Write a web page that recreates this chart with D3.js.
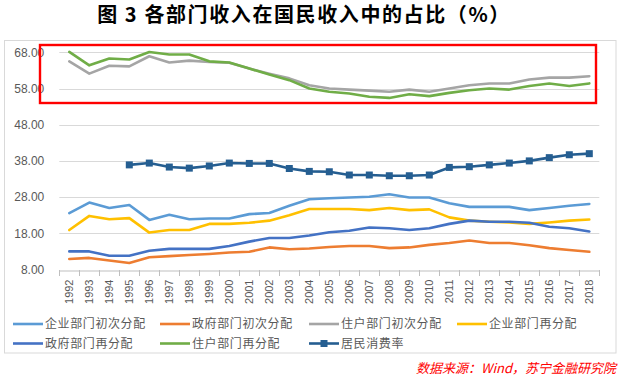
<!DOCTYPE html>
<html><head><meta charset="utf-8">
<script src="https://cdn.jsdelivr.net/npm/d3@7"></script>
<style>
html,body{margin:0;padding:0;background:#fff;}
svg{display:block;}
</style>
</head><body>
<svg id="c" width="622" height="377"></svg>
<script>
const years = [1992,1993,1994,1995,1996,1997,1998,1999,2000,2001,2002,2003,2004,2005,2006,2007,2008,2009,2010,2011,2012,2013,2014,2015,2016,2017,2018];
const yTicks = [8,18,28,38,48,58,68];
const seriesNames = ["企业部门初次分配","政府部门初次分配","住户部门初次分配","企业部门再分配","政府部门再分配","住户部门再分配","居民消费率"];
const entPrimary = [23.6,26.5,25.0,25.8,21.7,23.1,21.9,22.1,22.1,23.3,23.6,25.6,27.4,27.7,27.9,28.1,28.8,27.9,27.9,26.3,25.3,25.3,25.3,24.4,25.0,25.6,26.1];
const govPrimary = [10.9,11.2,10.5,9.8,11.4,11.7,12.0,12.3,12.7,12.9,14.1,13.6,13.8,14.2,14.5,14.5,13.9,14.1,14.8,15.3,16.0,15.3,15.3,14.7,13.9,13.4,12.9];
const hhPrimary = [65.5,62.1,64.3,64.1,66.9,65.2,65.7,65.3,65.1,63.5,62.1,60.8,58.9,58.0,57.7,57.4,57.1,57.7,57.1,58.0,58.9,59.4,59.4,60.5,61.0,61.0,61.4];
const entSecondary = [18.9,22.8,21.9,22.2,18.2,18.9,18.9,20.6,20.6,20.9,21.5,23.0,24.7,24.7,24.7,24.4,25.0,24.4,24.6,22.4,21.5,21.2,21.0,20.6,21.0,21.5,21.8];
const govSecondary = [13.0,13.0,11.8,11.8,13.2,13.7,13.7,13.7,14.5,15.7,16.7,16.7,17.4,18.3,18.7,19.6,19.4,18.9,19.4,20.6,21.5,21.2,21.2,20.9,19.8,19.4,18.5];
const hhSecondary = [68.1,64.4,66.3,66.0,68.1,67.4,67.4,65.5,65.2,63.5,61.9,60.3,58.0,57.1,56.6,55.7,55.4,56.4,55.9,56.8,57.5,58.0,57.7,58.7,59.4,58.7,59.4];
const consumption = [null,null,null,36.9,37.4,36.3,36.0,36.6,37.4,37.3,37.3,35.9,35.1,35.0,34.1,34.1,33.9,33.9,34.1,36.2,36.4,36.9,37.4,38.0,38.9,39.7,40.0];

const colors = ["#5B9BD5","#ED7D31","#A5A5A5","#FFC000","#4472C4","#70AD47","#255E91"];
const seriesData = [entPrimary,govPrimary,hhPrimary,entSecondary,govSecondary,hhSecondary,consumption];

const svg = d3.select("#c");
const pLeft = 59.3, pRight = 599.3, pTop = 52.3, pBottom = 269.5;
const x = d3.scaleBand().domain(years).range([pLeft,pRight]);
const y = d3.scaleLinear().domain([8,68]).range([pBottom,pTop]);
const cx = d => x(d) + x.bandwidth()/2;

// outer border
svg.append("rect").attr("x",4.5).attr("y",40.5).attr("width",611.5).attr("height",312.5)
  .attr("fill","none").attr("stroke","#D9D9D9").attr("stroke-width",1);

// title
svg.append("text").attr("x",304).attr("y",22).attr("text-anchor","middle")
  .attr("font-family","'Noto Sans CJK SC'").attr("font-weight","bold").attr("font-size",20)
  .attr("letter-spacing",1.6).attr("fill","#000").text("图 3 各部门收入在国民收入中的占比（%）");

// grid
svg.append("g").selectAll("line").data(yTicks.filter(t=>t>8)).join("line")
  .attr("x1",pLeft).attr("x2",pRight).attr("y1",d=>Math.round(y(d))+0.5).attr("y2",d=>Math.round(y(d))+0.5)
  .attr("stroke","#D9D9D9").attr("stroke-width",1);

// y axis labels
const yAxis = d3.axisLeft(y).tickValues(yTicks).tickFormat(d3.format(".2f")).tickSize(0).tickPadding(15);
const ga = svg.append("g").attr("transform",`translate(${pLeft},0)`).call(yAxis);
ga.select(".domain").remove();
ga.selectAll("text").attr("font-family","'Liberation Sans', Arial").attr("font-size",12).attr("fill","#595959");

// x axis
const xAxis = d3.axisBottom(x).tickSize(0).tickPadding(0);
const gx = svg.append("g").attr("transform",`translate(0,${Math.round(pBottom)+0.5})`).call(xAxis);
gx.select(".domain").attr("stroke","#BFBFBF");
gx.selectAll(".tick text").attr("font-family","'Liberation Sans', Arial").attr("font-size",11).attr("fill","#595959")
  .attr("transform","rotate(-90)").attr("text-anchor","end").attr("x",-9).attr("y",0).attr("dy","0.35em");
// category boundary ticks
svg.append("g").selectAll("line").data(years.concat(["end"])).join("line")
  .attr("x1",(d,i)=>Math.round(pLeft + i*x.step())+0.5).attr("x2",(d,i)=>Math.round(pLeft + i*x.step())+0.5)
  .attr("y1",Math.round(pBottom)).attr("y2",Math.round(pBottom)+6).attr("stroke","#BFBFBF");

// lines
const line = d3.line().defined(d=>d.v!==null).x(d=>cx(d.yr)).y(d=>y(d.v));
seriesData.forEach((arr,i)=>{
  const pts = years.map((yr,j)=>({yr, v:arr[j]}));
  svg.append("path").datum(pts).attr("d",line).attr("fill","none")
    .attr("stroke",colors[i]).attr("stroke-width",2.6).attr("stroke-linejoin","round").attr("stroke-linecap","round");
  if(i===6){
    svg.append("g").selectAll("rect").data(pts.filter(d=>d.v!==null)).join("rect")
      .attr("x",d=>cx(d.yr)-3.5).attr("y",d=>y(d.v)-3.5).attr("width",7).attr("height",7).attr("fill",colors[i]);
  }
});

// red highlight box
svg.append("rect").attr("x",40).attr("y",45).attr("width",556).attr("height",58)
  .attr("fill","none").attr("stroke","#FF0000").attr("stroke-width",2.4);

// legend
const legPos = [[13,324],[160,324],[309,324],[457,324],[13,343.5],[160,343.5],[309,343.5]];
seriesNames.forEach((n,i)=>{
  const [lx,ly] = legPos[i];
  const g = svg.append("g");
  g.append("line").attr("x1",lx).attr("x2",lx+30).attr("y1",ly).attr("y2",ly)
    .attr("stroke",colors[i]).attr("stroke-width",2.6);
  if(i===6) g.append("rect").attr("x",lx+11.5).attr("y",ly-3.5).attr("width",7).attr("height",7).attr("fill",colors[i]);
  g.append("text").attr("x",lx+32).attr("y",ly).attr("dy","0.36em")
    .attr("font-family","'Noto Sans CJK SC'").attr("font-size",12).attr("letter-spacing",0.6)
    .attr("fill","#595959").text(n);
});

// source
svg.append("text").attr("x",616).attr("y",373).attr("text-anchor","end")
  .attr("font-family","'Noto Sans CJK SC'").attr("font-size",13).attr("font-style","italic")
  .attr("fill","#FF0000").text("数据来源：Wind，苏宁金融研究院");
</script>
</body></html>
